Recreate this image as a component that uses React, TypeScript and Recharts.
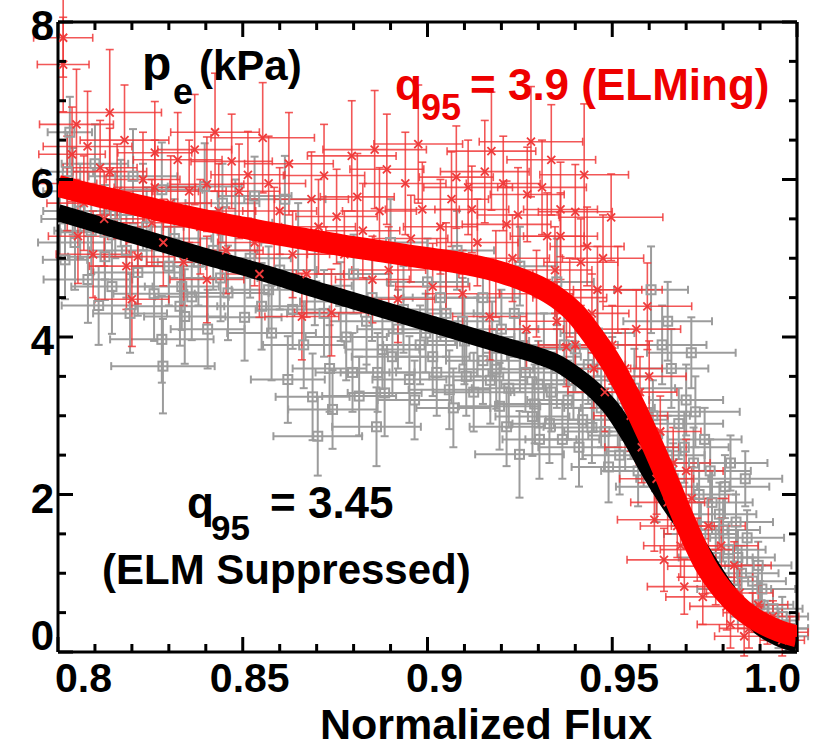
import React from "react";
import { ScatterChart, Scatter, XAxis, YAxis, ErrorBar } from "recharts";

// p_e profiles vs normalized flux, ELM suppressed (gray) vs ELMing (red)

const xTicks = [
  0.8, 0.81, 0.82, 0.83, 0.84, 0.85, 0.86, 0.87, 0.88, 0.89, 0.9, 0.91, 0.92,
  0.93, 0.94, 0.95, 0.96, 0.97, 0.98, 0.99, 1.0,
];
const xMajor = [0.8, 0.85, 0.9, 0.95, 1.0];
const xLabels = ["0.8", "0.85", "0.9", "0.95", "1.0"];

const yTicks = [0, 0.5, 1, 1.5, 2, 2.5, 3, 3.5, 4, 4.5, 5, 5.5, 6, 6.5, 7, 7.5, 8];
const yMajor = [0, 2, 4, 6, 8];
const yLabels = ["0", "2", "4", "6", "8"];

// [x, y, xerr, yerr]
const suppressedPts = [
  [0.8032, 6.6, 0.006, 0.45], [0.804, 5.85, 0.008, 0.55], [0.8046, 5.2, 0.01, 0.6],
  [0.8019, 4.98, 0.006, 0.5], [0.8081, 4.73, 0.012, 0.55], [0.81, 6.2, 0.009, 0.5],
  [0.8127, 5.33, 0.012, 0.6], [0.8127, 5.02, 0.01, 0.55], [0.8146, 4.64, 0.011, 0.6],
  [0.817, 5.7, 0.01, 0.55], [0.8203, 6.04, 0.012, 0.6], [0.8216, 4.82, 0.012, 0.55],
  [0.824, 5.4, 0.01, 0.5], [0.8281, 5.87, 0.011, 0.6], [0.8281, 3.97, 0.014, 0.55],
  [0.8284, 3.63, 0.014, 0.6], [0.83, 4.9, 0.01, 0.5], [0.8335, 4.64, 0.01, 0.55],
  [0.833, 4.39, 0.012, 0.5], [0.8343, 4.26, 0.011, 0.6], [0.8362, 4.51, 0.01, 0.55],
  [0.8397, 5.91, 0.01, 0.55], [0.842, 5.1, 0.012, 0.5], [0.846, 4.56, 0.011, 0.6],
  [0.848, 5.45, 0.01, 0.55], [0.8532, 5.79, 0.01, 0.5], [0.8551, 4.39, 0.012, 0.55],
  [0.8578, 4.05, 0.012, 0.6], [0.86, 4.85, 0.01, 0.5], [0.8614, 5.75, 0.011, 0.55],
  [0.8622, 3.46, 0.01, 0.55], [0.865, 5.2, 0.01, 0.5],
  [0.8689, 3.24, 0.01, 0.55], [0.8703, 2.74, 0.012, 0.5], [0.872, 4.3, 0.01, 0.55],
  [0.8743, 3.08, 0.012, 0.5], [0.878, 4.0, 0.011, 0.55], [0.8797, 3.55, 0.01, 0.5],
  [0.88, 4.8, 0.01, 0.5], [0.885, 4.5, 0.011, 0.55], [0.8862, 2.86, 0.012, 0.5],
  [0.8878, 3.84, 0.01, 0.5], [0.8884, 3.29, 0.01, 0.55], [0.89, 5.2, 0.01, 0.55],
  [0.892, 4.1, 0.011, 0.5], [0.8951, 3.46, 0.01, 0.55], [0.898, 3.9, 0.01, 0.5],
  [0.9, 4.7, 0.011, 0.55], [0.9014, 3.75, 0.01, 0.5], [0.905, 4.3, 0.01, 0.55],
  [0.9059, 3.33, 0.011, 0.5], [0.908, 5.1, 0.01, 0.5], [0.91, 3.95, 0.01, 0.55],
  [0.9105, 3.5, 0.01, 0.5], [0.915, 3.7, 0.01, 0.55], [0.915, 4.5, 0.01, 0.5],
  [0.9186, 3.59, 0.01, 0.5], [0.9195, 3.12, 0.011, 0.55], [0.92, 4.1, 0.01, 0.5],
  [0.9214, 2.86, 0.01, 0.5], [0.9249, 2.51, 0.012, 0.55], [0.925, 3.8, 0.01, 0.5],
  [0.925, 4.9, 0.01, 0.5], [0.9284, 2.99, 0.01, 0.5], [0.93, 3.4, 0.01, 0.55],
  [0.9303, 2.7, 0.01, 0.5],
  [0.933, 2.9, 0.01, 0.5], [0.935, 3.6, 0.01, 0.5], [0.935, 4.7, 0.01, 0.55],
  [0.938, 3.2, 0.011, 0.5], [0.94, 3.85, 0.01, 0.55], [0.942, 2.95, 0.01, 0.5],
  [0.945, 3.3, 0.01, 0.5], [0.946, 4.05, 0.01, 0.55], [0.948, 2.8, 0.011, 0.5],
  [0.95, 3.5, 0.01, 0.5], [0.952, 2.5, 0.01, 0.5], [0.955, 2.95, 0.01, 0.5],
  [0.957, 2.3, 0.01, 0.45], [0.9605, 4.6, 0.01, 0.55], [0.962, 2.1, 0.011, 0.45],
  [0.965, 4.2, 0.012, 0.5], [0.965, 2.5, 0.01, 0.5], [0.966, 3.6, 0.01, 0.5],
  [0.968, 2.9, 0.012, 0.45], [0.97, 3.2, 0.01, 0.45], [0.9714, 3.8, 0.012, 0.45],
  [0.972, 2.4, 0.01, 0.45], [0.974, 1.5, 0.01, 0.4], [0.975, 2.7, 0.01, 0.4],
  [0.977, 1.9, 0.011, 0.4], [0.978, 1.2, 0.01, 0.4], [0.98, 1.55, 0.01, 0.4],
  [0.982, 2.4, 0.01, 0.35], [0.983, 0.8, 0.01, 0.35], [0.984, 1.2, 0.01, 0.35],
  [0.986, 2.2, 0.01, 0.35], [0.988, 0.9, 0.009, 0.3], [0.99, 0.6, 0.009, 0.3],
  [0.992, 0.4, 0.008, 0.25], [0.995, 0.3, 0.008, 0.25], [0.997, 0.2, 0.006, 0.2],
  [0.8005, 5.5, 0.005, 0.5], [0.8025, 6.1, 0.007, 0.5], [0.806, 5.6, 0.01, 0.6],
  [0.809, 5.35, 0.01, 0.55], [0.811, 4.4, 0.01, 0.5], [0.8155, 5.55, 0.011, 0.55],
  [0.8185, 5.1, 0.01, 0.6], [0.8195, 4.3, 0.01, 0.5], [0.823, 5.65, 0.01, 0.55],
  [0.826, 4.55, 0.011, 0.6], [0.8315, 5.25, 0.01, 0.5], [0.838, 4.95, 0.011, 0.55],
  [0.8405, 4.1, 0.01, 0.5], [0.844, 4.75, 0.01, 0.55], [0.8445, 5.7, 0.01, 0.5],
  [0.8505, 4.25, 0.01, 0.55], [0.852, 5.0, 0.011, 0.5], [0.857, 4.6, 0.01, 0.55],
  [0.8635, 4.35, 0.01, 0.5], [0.8665, 3.9, 0.011, 0.55], [0.8695, 4.65, 0.01, 0.5],
  [0.8735, 3.6, 0.01, 0.55], [0.8765, 4.45, 0.011, 0.5], [0.8815, 3.25, 0.01, 0.5],
  [0.8835, 4.2, 0.01, 0.55], [0.8865, 3.55, 0.01, 0.5], [0.8905, 3.75, 0.011, 0.5],
  [0.8935, 4.35, 0.01, 0.55], [0.8965, 3.2, 0.01, 0.5], [0.8995, 4.05, 0.01, 0.5],
  [0.9025, 3.55, 0.011, 0.55], [0.9035, 4.5, 0.01, 0.5], [0.907, 3.1, 0.01, 0.5],
  [0.9095, 4.2, 0.01, 0.55], [0.9125, 3.3, 0.011, 0.5], [0.9135, 4.0, 0.01, 0.5],
  [0.917, 3.45, 0.01, 0.55], [0.9175, 3.95, 0.01, 0.5], [0.922, 3.35, 0.01, 0.5],
  [0.9235, 4.3, 0.011, 0.55], [0.9265, 3.55, 0.01, 0.5], [0.929, 3.15, 0.01, 0.5],
  [0.9315, 3.75, 0.01, 0.55], [0.9335, 3.3, 0.011, 0.5], [0.9365, 2.7, 0.01, 0.5],
  [0.937, 3.9, 0.01, 0.5], [0.9395, 3.45, 0.01, 0.5], [0.941, 2.6, 0.011, 0.5],
  [0.9435, 3.65, 0.01, 0.5], [0.9445, 2.85, 0.01, 0.45], [0.947, 3.1, 0.01, 0.5],
  [0.949, 2.35, 0.01, 0.45], [0.9515, 3.1, 0.01, 0.5], [0.9535, 2.75, 0.01, 0.45],
  [0.956, 3.35, 0.011, 0.5], [0.9585, 2.55, 0.01, 0.45], [0.961, 3.0, 0.01, 0.45],
  [0.9635, 3.9, 0.012, 0.5], [0.9665, 2.2, 0.01, 0.45], [0.9695, 2.6, 0.012, 0.45],
  [0.9725, 3.05, 0.012, 0.45], [0.9735, 2.0, 0.01, 0.4], [0.9765, 2.3, 0.011, 0.4],
  [0.979, 1.75, 0.01, 0.4], [0.9805, 2.1, 0.012, 0.4], [0.9815, 1.3, 0.01, 0.35],
  [0.9835, 1.65, 0.01, 0.35], [0.985, 1.0, 0.01, 0.35], [0.9865, 1.45, 0.01, 0.35],
  [0.9895, 1.1, 0.009, 0.3], [0.9905, 0.8, 0.009, 0.3], [0.9935, 0.55, 0.008, 0.25],
  [0.996, 0.45, 0.007, 0.25], [0.998, 0.3, 0.005, 0.2],
];

const elmingPts = [
  [0.8014, 7.8, 0.008, 0.5], [0.8014, 7.46, 0.007, 0.6], [0.8038, 6.32, 0.009, 0.6],
  [0.8054, 5.28, 0.008, 0.6], [0.808, 6.42, 0.012, 0.7], [0.8114, 6.15, 0.01, 0.6],
  [0.814, 6.85, 0.014, 0.8], [0.814, 6.1, 0.01, 0.55], [0.82, 4.48, 0.01, 0.6],
  [0.8216, 5.02, 0.01, 0.6], [0.8254, 5.45, 0.01, 0.55], [0.8262, 6.34, 0.01, 0.65],
  [0.8262, 5.9, 0.011, 0.6], [0.8324, 6.25, 0.012, 0.6], [0.837, 6.38, 0.01, 0.7],
  [0.8403, 5.94, 0.01, 0.6], [0.8403, 4.73, 0.01, 0.55], [0.847, 6.23, 0.011, 0.6],
  [0.8514, 6.06, 0.01, 0.55], [0.8532, 5.2, 0.01, 0.55], [0.8554, 6.53, 0.014, 0.7],
  [0.86, 5.6, 0.01, 0.55], [0.866, 4.26, 0.01, 0.55], [0.8673, 4.8, 0.01, 0.55],
  [0.8686, 5.75, 0.01, 0.6], [0.874, 4.31, 0.01, 0.55], [0.8754, 5.53, 0.011, 0.6],
  [0.881, 5.78, 0.01, 0.55], [0.8851, 4.73, 0.01, 0.55], [0.8857, 6.38, 0.014, 0.75],
  [0.889, 6.13, 0.01, 0.7], [0.892, 4.48, 0.01, 0.55], [0.8986, 5.62, 0.01, 0.6],
  [0.9014, 4.64, 0.01, 0.55], [0.9078, 6.03, 0.01, 0.65], [0.911, 5.9, 0.012, 0.6],
  [0.912, 5.62, 0.01, 0.55], [0.9168, 4.26, 0.01, 0.55], [0.9173, 6.36, 0.012, 0.75],
  [0.9214, 5.43, 0.012, 0.55], [0.9268, 4.1, 0.01, 0.5], [0.927, 5.81, 0.01, 0.6],
  [0.928, 6.48, 0.014, 0.7], [0.931, 5.9, 0.012, 0.6], [0.9324, 5.28, 0.01, 0.55],
  [0.936, 5.62, 0.01, 0.6], [0.936, 5.28, 0.01, 0.55], [0.9376, 3.87, 0.01, 0.5],
  [0.94, 5.59, 0.01, 0.6], [0.9424, 6.06, 0.012, 0.9], [0.9432, 5.15, 0.01, 0.5],
  [0.946, 4.6, 0.012, 0.55], [0.9497, 5.52, 0.014, 0.55], [0.935, 4.2, 0.01, 0.5],
  [0.94, 3.9, 0.01, 0.5], [0.945, 3.6, 0.01, 0.5], [0.95, 3.9, 0.01, 0.5],
  [0.948, 3.3, 0.01, 0.5], [0.955, 3.0, 0.01, 0.45], [0.958, 2.6, 0.01, 0.45],
  [0.9595, 4.39, 0.012, 0.55], [0.96, 3.5, 0.01, 0.45], [0.9614, 1.68, 0.01, 0.4],
  [0.962, 2.2, 0.01, 0.45], [0.964, 1.17, 0.01, 0.4], [0.965, 1.9, 0.01, 0.4],
  [0.9676, 1.6, 0.01, 0.4], [0.9695, 0.83, 0.01, 0.35], [0.97, 2.3, 0.01, 0.4],
  [0.975, 1.09, 0.01, 0.35], [0.976, 1.6, 0.01, 0.35], [0.981, 0.58, 0.01, 0.3],
  [0.983, 1.1, 0.01, 0.3], [0.9857, 0.2, 0.008, 0.25], [0.988, 0.5, 0.008, 0.25],
  [0.992, 0.3, 0.008, 0.2], [0.996, 0.15, 0.006, 0.2],
  [0.8025, 5.95, 0.008, 0.6], [0.805, 6.7, 0.01, 0.7], [0.807, 5.7, 0.01, 0.6],
  [0.8095, 5.05, 0.01, 0.55], [0.8125, 5.5, 0.011, 0.6], [0.816, 5.85, 0.01, 0.6],
  [0.818, 6.5, 0.012, 0.7], [0.8185, 4.9, 0.01, 0.55], [0.823, 6.0, 0.01, 0.6],
  [0.8285, 5.2, 0.01, 0.55], [0.8305, 5.7, 0.011, 0.6], [0.834, 4.95, 0.01, 0.55],
  [0.8355, 5.85, 0.01, 0.65], [0.8385, 5.4, 0.01, 0.6], [0.8425, 6.6, 0.012, 0.75],
  [0.8435, 5.6, 0.01, 0.6], [0.8455, 5.1, 0.01, 0.55], [0.849, 5.85, 0.011, 0.6],
  [0.8545, 4.8, 0.01, 0.55], [0.857, 5.95, 0.01, 0.6], [0.8585, 5.35, 0.01, 0.55],
  [0.8625, 6.2, 0.012, 0.65], [0.8635, 5.05, 0.01, 0.55], [0.8705, 5.4, 0.01, 0.6],
  [0.872, 6.05, 0.011, 0.65], [0.8775, 5.05, 0.01, 0.55], [0.8795, 6.3, 0.012, 0.7],
  [0.8825, 5.35, 0.01, 0.6], [0.887, 5.6, 0.01, 0.55], [0.8895, 4.85, 0.01, 0.55],
  [0.894, 5.95, 0.011, 0.65], [0.8955, 5.25, 0.01, 0.55], [0.8975, 6.45, 0.012, 0.75],
  [0.9035, 5.4, 0.01, 0.6], [0.905, 4.9, 0.01, 0.55], [0.9065, 5.75, 0.01, 0.6],
  [0.9095, 4.55, 0.01, 0.55], [0.9135, 5.2, 0.011, 0.55], [0.9155, 6.1, 0.012, 0.65],
  [0.9185, 4.8, 0.01, 0.55], [0.9205, 5.95, 0.01, 0.6], [0.923, 5.0, 0.01, 0.55],
  [0.9245, 5.55, 0.011, 0.6], [0.9295, 4.55, 0.01, 0.55], [0.9335, 6.25, 0.012, 0.7],
  [0.9345, 4.85, 0.01, 0.55], [0.9385, 4.5, 0.01, 0.5], [0.9415, 4.95, 0.01, 0.55],
  [0.9445, 4.3, 0.01, 0.5], [0.9475, 5.0, 0.011, 0.55], [0.9515, 4.6, 0.012, 0.55],
  [0.9535, 3.6, 0.01, 0.5], [0.9565, 4.1, 0.012, 0.5], [0.9575, 3.3, 0.01, 0.45],
  [0.963, 2.8, 0.011, 0.45], [0.9665, 2.4, 0.01, 0.45], [0.9685, 1.35, 0.01, 0.4],
  [0.9715, 1.95, 0.01, 0.4], [0.973, 1.3, 0.01, 0.4], [0.9745, 0.7, 0.01, 0.35],
  [0.978, 0.95, 0.01, 0.35], [0.9795, 1.35, 0.01, 0.35], [0.982, 0.35, 0.009, 0.3],
  [0.9845, 0.75, 0.009, 0.3], [0.987, 0.3, 0.008, 0.25], [0.9895, 0.6, 0.008, 0.25],
  [0.9935, 0.45, 0.007, 0.2], [0.998, 0.25, 0.005, 0.2],
];

// fitted profiles [x, y]
const suppressedFit = [
  [0.8, 5.58], [0.81, 5.44], [0.82, 5.3], [0.83, 5.16], [0.84, 5.02], [0.85, 4.89],
  [0.86, 4.75], [0.87, 4.6], [0.88, 4.46], [0.89, 4.32], [0.9, 4.18], [0.91, 4.04],
  [0.92, 3.9], [0.93, 3.76], [0.935, 3.67], [0.94, 3.52], [0.945, 3.33], [0.95, 3.08],
  [0.955, 2.72], [0.96, 2.3], [0.965, 1.92], [0.97, 1.58], [0.975, 1.22], [0.98, 0.85],
  [0.985, 0.55], [0.99, 0.32], [0.995, 0.18], [1.0, 0.1],
];

const elmingFit = [
  [0.8, 5.92], [0.81, 5.8], [0.82, 5.69], [0.83, 5.58], [0.84, 5.48], [0.85, 5.39],
  [0.86, 5.3], [0.87, 5.22], [0.88, 5.14], [0.89, 5.07], [0.9, 5.0], [0.91, 4.93],
  [0.92, 4.82], [0.925, 4.74], [0.93, 4.64], [0.935, 4.5], [0.94, 4.3], [0.945, 4.0],
  [0.95, 3.65], [0.955, 3.22], [0.96, 2.72], [0.965, 2.18], [0.97, 1.62], [0.975, 1.12],
  [0.98, 0.78], [0.985, 0.54], [0.99, 0.38], [0.995, 0.27], [1.0, 0.2],
];

const toPts = (rows: number[][]) =>
  rows.map(([x, y, ex, ey]) => ({ x, y, ex, ey }));
const toLine = (rows: number[][]) => rows.map(([x, y]) => ({ x, y }));

const FONT = "'Liberation Sans', Arial, Helvetica, sans-serif";
const GRAY = "#9c9c9c";
const RED_PT = "#f03a3a";

const labelOf = (v: number, majors: number[], labels: string[]) => {
  const i = majors.findIndex((m) => Math.abs(m - v) < 1e-9);
  return i >= 0 ? labels[i] : null;
};

const BottomTick = (props: any) => {
  const { x, y, payload } = props;
  const label = labelOf(payload.value, xMajor, xLabels);
  const len = label ? 15 : 8;
  let anchor = "middle";
  let tx = x + 7;
  if (payload.value === xMajor[0]) {
    anchor = "start";
    tx = x - 3;
  } else if (payload.value === xMajor[xMajor.length - 1]) {
    anchor = "end";
    tx = x + 4;
  }
  return (
    <g>
      <line x1={x} x2={x} y1={y} y2={y - len} stroke="#000" strokeWidth={3} />
      {label && (
        <text x={tx} y={y + 40} textAnchor={anchor} fontFamily={FONT}
          fontWeight="bold" fontSize={41} fill="#000">
          {label}
        </text>
      )}
    </g>
  );
};

const TopTick = (props: any) => {
  const { x, y, payload } = props;
  const len = labelOf(payload.value, xMajor, xLabels) ? 15 : 8;
  return <line x1={x} x2={x} y1={y} y2={y + len} stroke="#000" strokeWidth={3} />;
};

const LeftTick = (props: any) => {
  const { x, y, payload } = props;
  const label = labelOf(payload.value, yMajor, yLabels);
  const len = label ? 15 : 8;
  const dy = payload.value === 0 ? -2 : 18;
  return (
    <g>
      <line x1={x} x2={x + len} y1={y} y2={y} stroke="#000" strokeWidth={3} />
      {label && (
        <text x={x - 4} y={y + dy} textAnchor="end" fontFamily={FONT}
          fontWeight="bold" fontSize={42} fill="#000">
          {label}
        </text>
      )}
    </g>
  );
};

const RightTick = (props: any) => {
  const { x, y, payload } = props;
  const len = labelOf(payload.value, yMajor, yLabels) ? 15 : 8;
  return <line x1={x} x2={x - len} y1={y} y2={y} stroke="#000" strokeWidth={3} />;
};

const SquareMark = (props: any) => {
  const { cx, cy } = props;
  return <rect x={cx - 4.5} y={cy - 4.5} width={9} height={9} fill="none" stroke={GRAY} strokeWidth={2} />;
};

const CrossMark = (props: any) => {
  const { cx, cy } = props;
  return (
    <path d={`M${cx - 4},${cy - 4}L${cx + 4},${cy + 4}M${cx - 4},${cy + 4}L${cx + 4},${cy - 4}`}
      stroke={RED_PT} strokeWidth={1.8} />
  );
};

const NoMark = () => <g />;

export default function App() {
  const axisLine = { stroke: "#000", strokeWidth: 3 };
  return (
    <div style={{ position: "absolute", left: 0, top: 0, width: 821, height: 747, background: "#fff" }}>
      <ScatterChart width={821} height={747} margin={{ top: 21, right: 23, bottom: 0, left: 0 }}>
        <XAxis type="number" dataKey="x" domain={[0.8, 1.0]} ticks={xTicks} interval={0}
          allowDataOverflow height={95} tickSize={0} tickMargin={0} tickLine={false}
          axisLine={axisLine} tick={<BottomTick />} />
        <XAxis xAxisId="top" orientation="top" type="number" dataKey="x" domain={[0.8, 1.0]}
          ticks={xTicks} interval={0} allowDataOverflow height={1} tickSize={0} tickMargin={0}
          tickLine={false} axisLine={axisLine} tick={<TopTick />} />
        <YAxis type="number" dataKey="y" domain={[0, 8]} ticks={yTicks} interval={0}
          allowDataOverflow width={58} tickSize={0} tickMargin={0} tickLine={false}
          axisLine={axisLine} tick={<LeftTick />} />
        <YAxis yAxisId="right" orientation="right" type="number" dataKey="y" domain={[0, 8]}
          ticks={yTicks} interval={0} allowDataOverflow width={1} tickSize={0} tickMargin={0}
          tickLine={false} axisLine={axisLine} tick={<RightTick />} />

        <Scatter data={toPts(suppressedPts)} shape={<SquareMark />} isAnimationActive={false}>
          <ErrorBar dataKey="ex" direction="x" width={4} stroke={GRAY} strokeWidth={2} />
          <ErrorBar dataKey="ey" direction="y" width={4} stroke={GRAY} strokeWidth={2} />
        </Scatter>
        <Scatter data={toLine(suppressedFit)} shape={<NoMark />} line={{ stroke: "#000", strokeWidth: 17 }}
          lineType="joint" lineJointType="monotoneX" isAnimationActive={false} />
        <Scatter data={toPts(elmingPts)} shape={<CrossMark />} isAnimationActive={false}>
          <ErrorBar dataKey="ex" direction="x" width={4} stroke={RED_PT} strokeWidth={1.6} strokeOpacity={0.85} />
          <ErrorBar dataKey="ey" direction="y" width={4} stroke={RED_PT} strokeWidth={1.6} strokeOpacity={0.85} />
        </Scatter>
        <Scatter data={toLine(elmingFit)} shape={<NoMark />} line={{ stroke: "#ff0000", strokeWidth: 22 }}
          lineType="joint" lineJointType="monotoneX" isAnimationActive={false} />
      </ScatterChart>

      <svg width={821} height={747} style={{ position: "absolute", left: 0, top: 0, pointerEvents: "none" }}
        fontFamily={FONT} fontWeight="bold">
        <text x={142} y={80} fontSize={48} fill="#000">p</text>
        <text x={173} y={104} fontSize={36} fill="#000">e</text>
        <text x={199} y={80} fontSize={42} fill="#000">(kPa)</text>

        <text x={395} y={100} fontSize={44} fill="#ee0000">q</text>
        <text x={421} y={120} fontSize={36} fill="#ee0000">95</text>
        <text x={470} y={100} fontSize={44} fill="#ee0000">= 3.9 (ELMing)</text>

        <text x={187} y={518} fontSize={44} fill="#000">q</text>
        <text x={211} y={540} fontSize={35} fill="#000">95</text>
        <text x={270} y={518} fontSize={44} fill="#000">= 3.45</text>
        <text x={102} y={584} fontSize={42} fill="#000">(ELM Suppressed)</text>

        <text x={486} y={739} fontSize={43} textAnchor="middle" fill="#000">Normalized Flux</text>
      </svg>
    </div>
  );
}
